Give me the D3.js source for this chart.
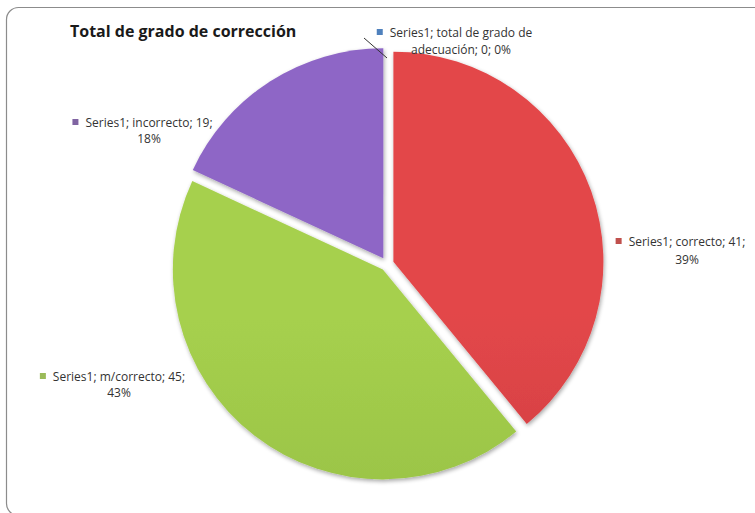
<!DOCTYPE html>
<html>
<head>
<meta charset="utf-8">
<script src="https://cdn.jsdelivr.net/npm/d3@7/dist/d3.min.js"></script>
<style>
  html, body { margin: 0; padding: 0; background: #ffffff; }
  svg { display: block; }
  text { font-family: "Open Sans", "Lato", sans-serif; fill: #333333; }
</style>
</head>
<body>
<svg id="chart" width="755" height="513"></svg>
<script>
// Data: one series, four categories, in clockwise order from 12 o'clock
const categories = ["total de grado de adecuación", "correcto", "m/correcto", "incorrecto"];
const values = [0, 41, 45, 19];
const percentLabels = ["0%", "39%", "43%", "18%"];
const seriesName = "Series1";
const chartTitle = "Total de grado de corrección";

const colorTop = ["#5b8fd0", "#e3474a", "#a6d04e", "#8e66c6"];
const colorBottom = ["#3f6fa8", "#bd3535", "#8ab33b", "#7252a8"];
const markerColor = ["#4f81bd", "#c0504d", "#9bbb59", "#8064a2"];

const svg = d3.select("#chart");
const W = 755, H = 513;

// Chart frame with rounded corners
svg.append("rect")
  .attr("x", 6.5).attr("y", 7.5)
  .attr("width", W + 20).attr("height", H - 5)
  .attr("rx", 12).attr("ry", 12)
  .attr("fill", "#ffffff")
  .attr("stroke", "#8c8c8c").attr("stroke-width", 1.2);

const defs = svg.append("defs");
categories.forEach((c, i) => {
  const g = defs.append("linearGradient")
    .attr("id", "grad" + i)
    .attr("gradientUnits", "userSpaceOnUse")
    .attr("x1", 0).attr("y1", 50).attr("x2", 0).attr("y2", 480);
  g.append("stop").attr("offset", "0%").attr("stop-color", colorTop[i]);
  g.append("stop").attr("offset", "100%").attr("stop-color", colorBottom[i]);
});
const shadow = defs.append("filter").attr("id", "shadow")
  .attr("x", "-10%").attr("y", "-10%").attr("width", "120%").attr("height", "120%");
shadow.append("feGaussianBlur").attr("in", "SourceAlpha").attr("stdDeviation", 2.2);
shadow.append("feOffset").attr("dx", 1).attr("dy", 2).attr("result", "blur");
shadow.append("feComponentTransfer").append("feFuncA").attr("type", "linear").attr("slope", 0.35);
const merge = shadow.append("feMerge");
merge.append("feMergeNode");
merge.append("feMergeNode").attr("in", "SourceGraphic");

// Title
svg.append("text")
  .attr("x", 70).attr("y", 37)
  .style("font-family", "'Open Sans', sans-serif")
  .style("font-weight", "bold").style("font-size", "16px")
  .style("fill", "#1a1a1a")
  .text(chartTitle);

// Pie geometry
const cx = 387, cy = 264, r = 210, explode = 6.8;
const pie = d3.pie().sort(null).value(d => d)
  .startAngle(0).endAngle(2 * Math.PI);
const arcs = pie(values);
const arc = d3.arc().innerRadius(0).outerRadius(r);

const slices = svg.append("g").attr("transform", `translate(${cx},${cy})`);
slices.selectAll("path")
  .data(arcs.filter(a => a.value > 0))
  .join("path")
  .attr("transform", a => {
    const mid = (a.startAngle + a.endAngle) / 2;
    return `translate(${explode * Math.sin(mid)},${-explode * Math.cos(mid)})`;
  })
  .attr("d", arc)
  .attr("fill", a => `url(#grad${a.index})`)
  .attr("filter", "url(#shadow)");

// Data labels: marker square + two centred lines of text
const labelPos = [
  { x: 461, y: 37, gap: 17, lines: [`${seriesName}; total de grado de`, `adecuación; ${values[0]}; ${percentLabels[0]}`] },
  { x: 687, y: 246, gap: 18, lines: [`${seriesName}; correcto; ${values[1]};`, percentLabels[1]] },
  { x: 119, y: 381, gap: 16, lines: [`${seriesName}; m/correcto; ${values[2]};`, percentLabels[2]] },
  { x: 149, y: 127, gap: 16, lines: [`${seriesName}; incorrecto; ${values[3]};`, percentLabels[3]] }
];

// Leader line for the zero-value slice
svg.append("line")
  .attr("x1", 364).attr("y1", 38).attr("x2", 387).attr("y2", 58)
  .attr("stroke", "#333333").attr("stroke-width", 1);

const labels = svg.append("g");
labelPos.forEach((p, i) => {
  const t = labels.append("text")
    .attr("text-anchor", "middle")
    .style("font-size", "12px");
  const spans = p.lines.map((ln, k) =>
    t.append("tspan").attr("x", p.x).attr("y", p.y + k * p.gap).text(ln));
  const w = spans[0].node().getComputedTextLength();
  labels.append("rect")
    .attr("x", p.x - w / 2 - 13).attr("y", p.y - 8)
    .attr("width", 6).attr("height", 6)
    .attr("fill", markerColor[i]);
});
</script>
</body>
</html>
